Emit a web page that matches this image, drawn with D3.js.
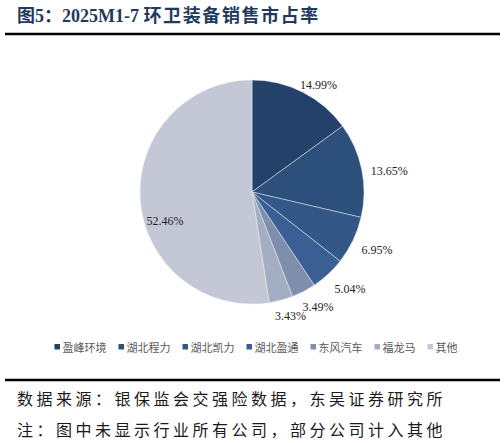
<!DOCTYPE html>
<html lang="zh">
<head>
<meta charset="UTF-8">
<title>2025M1-7 环卫装备销售市占率</title>
<script src="https://d3js.org/d3.v7.min.js"></script>
<style>
  body { margin: 0; background: #fff; }
  svg { display: block; }
</style>
</head>
<body>
<svg id="chart" width="504" height="443"></svg>
<script>
// data
const companies = ["盈峰环境", "湖北程力", "湖北凯力", "湖北盈通", "东风汽车", "福龙马", "其他"];
const shares = [14.99, 13.65, 6.95, 5.04, 3.49, 3.43, 52.46];
const sliceColors = ["#24416a", "#2c507b", "#335887", "#3a5f94", "#7e8fad", "#a4aec2", "#c4c8d6"];

const titleNum = "图5：2025M1-7 ";
const titleText = "环卫装备销售市占率";
const notes = [
  "数据来源：银保监会交强险数据，东吴证券研究所",
  "注：图中未显示行业所有公司，部分公司计入其他"
];

const W = 504, H = 443;
const svg = d3.select("#chart");
const serif = "'Times New Roman', 'Liberation Serif', 'Noto Sans CJK SC', serif";
const cjk = "'Noto Sans CJK SC', 'Liberation Serif', serif";

// title
const title = svg.append("text")
    .attr("x", 17).attr("y", 22)
    .attr("fill", "#1f3a5c")
    .attr("font-weight", "bold")
    .attr("font-size", 18)
    .attr("font-family", serif);
title.append("tspan").text(titleNum);
title.append("tspan").attr("letter-spacing", 1.6).attr("font-family", cjk).text(titleText);

svg.append("line")
    .attr("x1", 5).attr("x2", 500).attr("y1", 34).attr("y2", 34)
    .attr("stroke", "#000").attr("stroke-width", 2.5);

// pie
const cx = 252, cy = 192, R = 112;
const pie = d3.pie().sort(null).value(d => d.v);
const arcs = pie(companies.map((c, i) => ({ name: c, v: shares[i], color: sliceColors[i] })));
const arc = d3.arc().innerRadius(0).outerRadius(R);

const g = svg.append("g").attr("transform", `translate(${cx},${cy})`);
g.selectAll("path")
    .data(arcs)
    .enter()
    .append("path")
    .attr("d", arc)
    .attr("fill", d => d.data.color)
    .attr("stroke", "#e8ebf2")
    .attr("stroke-width", 0.5);

// labels: small slices outside end, big slice inside
const labels = g.selectAll("text.lbl")
    .data(arcs)
    .enter()
    .append("text")
    .attr("class", "lbl")
    .attr("font-family", serif)
    .attr("font-size", 12)
    .attr("fill", "#222")
    .attr("text-anchor", "middle")
    .attr("dominant-baseline", "central")
    .text(d => d.data.v.toFixed(2) + "%");

labels.each(function(d) {
    const el = d3.select(this);
    const a = (d.startAngle + d.endAngle) / 2;
    const s = Math.sin(a), c = -Math.cos(a);
    const box = this.getBBox();
    let x, y;
    if (d.endAngle - d.startAngle > Math.PI) {
        x = s * R * 0.78;
        y = c * R * 0.78 + 22;
    } else {
        const r = R + 5;
        const m = Math.max(Math.abs(s), Math.abs(c));
        x = s * r + (box.width / 2) * s / m + 4;
        y = c * r + (box.height / 2) * c / m + 4;
    }
    el.attr("x", x).attr("y", y);
});

// legend
const legend = svg.append("g").attr("transform", "translate(0,347)");
const items = legend.selectAll("g")
    .data(companies)
    .enter()
    .append("g");
items.append("rect")
    .attr("y", -3).attr("width", 5.5).attr("height", 5.5)
    .attr("fill", (d, i) => sliceColors[i]);
items.append("text")
    .attr("x", 8)
    .attr("dominant-baseline", "central")
    .attr("font-family", cjk)
    .attr("font-size", 11)
    .attr("fill", "#595959")
    .text(d => d);
const gap = 12;
let lx = 0;
const offsets = [];
items.each(function() {
    offsets.push(lx);
    lx += this.getBBox().width + gap;
});
const legendW = lx - gap;
const startX = 256 - legendW / 2;
items.attr("transform", (d, i) => `translate(${startX + offsets[i]},0)`);

// footer
svg.append("line")
    .attr("x1", 5).attr("x2", 500).attr("y1", 380).attr("y2", 380)
    .attr("stroke", "#000").attr("stroke-width", 2.5);

svg.selectAll("text.note")
    .data(notes)
    .enter()
    .append("text")
    .attr("class", "note")
    .attr("x", 17)
    .attr("y", (d, i) => 398 + i * 31)
    .attr("dominant-baseline", "central")
    .attr("font-family", cjk)
    .attr("font-size", 16)
    .attr("letter-spacing", 3.5)
    .attr("fill", "#1a1a1a")
    .text(d => d);
</script>
</body>
</html>
